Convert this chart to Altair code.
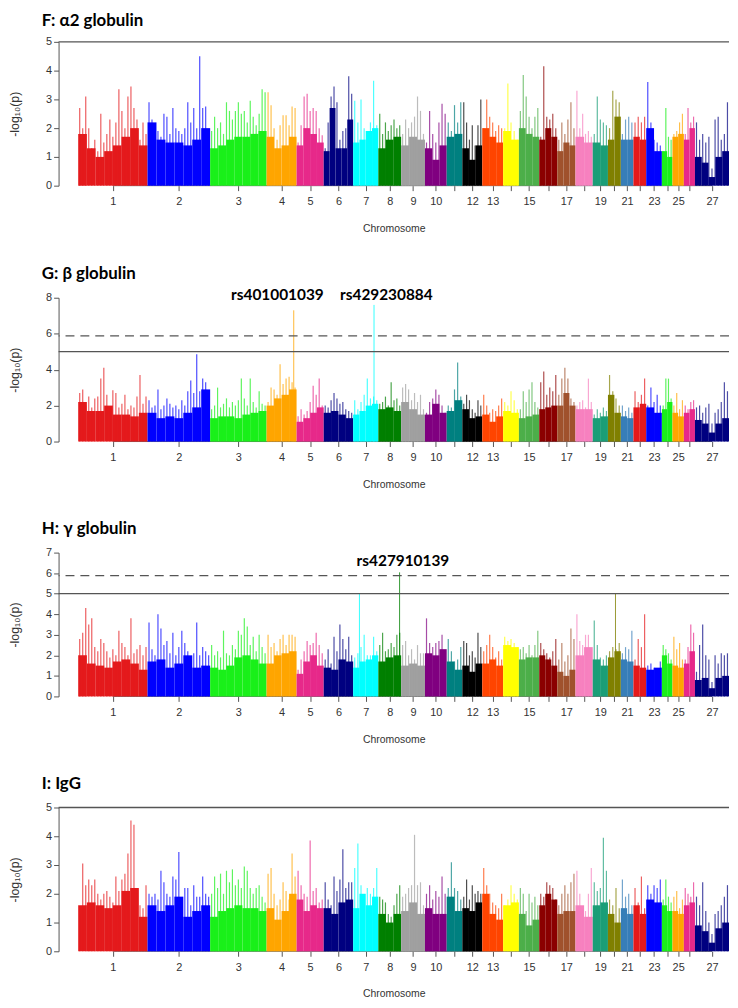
import altair as alt
import pandas as pd

# ---------------- chromosome frame (sheep, Mb) ----------------
CHR_LABELS = ['1', '2', '3', '4', '5', '6', '7', '8', '9', '10', '', '12', '13', '', '15', '', '17', '',
              '19', '', '21', '', '23', '', '25', '', '27']
CHR_LEN_MB = [275.6, 249.0, 224.3, 119.3, 107.9, 117.0, 100.1, 90.7, 94.7, 86.4, 62.2, 79.1, 83.1, 62.7,
              80.9, 71.7, 72.3, 68.6, 60.5, 51.2, 50.1, 50.8, 62.3, 42.0, 45.4, 44.1, 135.4]
CHR_COLORS = ['#E41A1C', '#0000FF', '#1AF01A', '#FFA500', '#E7298A', '#000080', '#00FFFF', '#008000',
              '#A0A0A0', '#800080', '#008080', '#000000', '#FF4500', '#FFFF00', '#4DAF4A', '#8B0000',
              '#A0522D', '#F781BF', '#1B9E77', '#808000', '#377EB8', '#E41A1C', '#0000FF', '#1AF01A',
              '#FFA500', '#E7298A', '#000080']

# ---------------- F: alpha2 globulin ----------------
F_SPIKES = [
    [2.7, 2.0, 3.1, 2.0, 1.3, 1.6, 1.2, 2.5, 1.5, 1.8, 2.3, 1.7, 2.2, 3.35, 2.6, 2.0, 3.1, 3.45, 2.7, 2.3, 1.6, 2.2, 1.8],
    [2.9, 2.3, 1.8, 1.9, 1.7, 2.5, 2.4, 1.8, 2.7, 2.0, 1.9, 1.8, 2.0, 2.9, 2.2, 2.7, 2.0, 4.5, 2.7, 2.75, 1.6],
    [1.9, 2.4, 2.0, 2.2, 1.8, 2.9, 2.6, 2.3, 2.6, 2.9, 2.5, 2.6, 2.2, 2.95, 2.4, 2.1, 2.5, 3.35, 3.25],
    [3.25, 2.8, 2.0, 1.6, 2.1, 2.45, 2.45, 2.1, 2.75, 2.7],
    [1.5, 2.1, 3.1, 3.2, 2.6, 2.7, 2.6, 2.0, 1.75],
    [1.3, 2.2, 3.1, 3.45, 2.9, 1.6, 1.9, 2.0, 3.8, 3.2],
    [2.95, 2.2, 3.0, 2.0, 1.9, 2.2, 3.65, 2.1],
    [2.5, 1.8, 2.2, 1.9, 2.1, 2.3, 2.0, 2.1],
    [1.8, 2.3, 2.0, 2.2, 2.4, 3.1, 2.6, 1.8],
    [1.5, 2.6, 1.8, 1.5, 2.2, 2.85, 2.5],
    [2.2, 1.9, 2.8, 2.2, 2.9],
    [2.9, 2.2, 1.6, 2.1, 1.4, 2.1, 3.0],
    [2.0, 3.0, 2.4, 2.2, 1.9, 2.1, 2.0],
    [2.0, 3.55, 2.2, 1.9, 1.6],
    [2.6, 3.85, 3.1, 2.4, 2.0, 2.4, 2.7],
    [1.7, 4.15, 2.4, 2.3, 2.5, 2.0],
    [1.6, 2.2, 1.8, 2.3, 2.9, 2.0],
    [3.3, 2.0, 2.5, 1.8, 1.9, 1.7],
    [1.8, 3.1, 2.3, 2.2, 2.1],
    [2.0, 3.3, 3.0, 2.9],
    [1.8, 2.3, 2.4, 2.2],
    [2.2, 2.4, 2.2, 2.4],
    [3.6, 2.2, 1.6, 1.5, 1.4],
    [1.2, 2.7, 1.7, 1.6],
    [1.8, 1.9, 2.2, 2.5],
    [1.8, 2.7, 2.2, 2.4],
    [2.2, 1.6, 1.8, 1.5, 1.7, 0.6, 2.3, 2.4, 1.6, 1.8, 2.9],
]
F_BASE = [
    [1.8, 1.3, 1.0, 1.2, 1.4, 1.7, 2.0, 1.4], [2.2, 1.6, 1.5, 1.5, 1.4, 1.6, 2.0], [1.3, 1.4, 1.6, 1.7, 1.7, 1.8, 1.9],
    [1.7, 1.3, 1.4, 1.7], [1.4, 2.0, 1.8, 1.5], [1.2, 2.7, 1.3, 1.3, 2.3], [1.5, 1.6, 1.9, 2.0], [1.3, 1.6, 1.7],
    [1.4, 1.7, 1.6], [1.3, 0.9, 1.4], [1.7, 1.8], [1.3, 0.9, 1.4], [2.0, 1.7, 1.5], [1.9, 1.6], [2.0, 1.8, 1.7],
    [1.6, 2.0, 1.7], [1.2, 1.5, 1.4], [1.7, 1.5], [1.5, 1.4], [1.6, 2.4], [1.6, 1.6], [1.7, 1.6], [2.0, 1.2],
    [1.2, 1.0], [1.7, 1.8], [1.6, 2.0], [1.0, 0.8, 0.3, 1.0, 1.2],
]

# ---------------- G: beta globulin ----------------
G_SPIKES = [
    [2.7, 2.9, 2.0, 2.5, 1.9, 2.4, 2.5, 3.5, 4.1, 2.6, 1.9, 2.85, 2.7, 1.9, 2.1, 2.6, 1.8, 2.0, 1.9, 2.5, 3.7, 2.1, 2.5],
    [2.3, 1.9, 2.0, 2.9, 1.8, 2.0, 2.4, 2.1, 1.9, 2.0, 1.8, 2.3, 2.0, 2.8, 3.4, 2.7, 4.85, 2.8, 3.5, 3.3, 1.9],
    [1.8, 2.0, 3.0, 1.9, 2.1, 2.4, 1.9, 2.2, 2.0, 2.3, 3.5, 2.4, 2.0, 3.5, 2.2, 1.9, 2.8, 2.1, 2.0],
    [2.2, 3.0, 2.9, 2.6, 4.3, 3.2, 3.5, 3.6, 3.3, 3.0],
    [1.4, 1.8, 1.5, 1.7, 2.2, 3.1, 2.6, 3.5, 2.0],
    [2.0, 1.9, 2.3, 2.7, 2.4, 2.1, 2.2, 1.8, 1.7, 1.6],
    [2.3, 1.8, 2.2, 2.6, 3.5, 2.4, 2.5, 2.3],
    [2.1, 2.2, 2.5, 2.0, 3.3, 2.3, 2.4, 2.0],
    [3.0, 3.2, 2.9, 2.3, 2.7, 2.2, 2.6, 1.8],
    [1.6, 2.2, 2.4, 2.9, 2.6, 2.0, 1.6],
    [2.0, 1.9, 2.9, 4.4, 2.5],
    [2.1, 2.6, 2.3, 1.8, 1.6, 2.3, 2.0],
    [2.6, 2.0, 1.6, 1.8, 1.7, 2.0, 2.4],
    [2.2, 2.0, 2.8, 2.3, 1.8],
    [1.8, 2.8, 2.2, 2.9, 3.3, 2.2, 1.9],
    [3.3, 3.9, 2.6, 3.0, 2.8, 3.7],
    [2.6, 3.5, 4.1, 3.5, 2.4, 2.2],
    [2.0, 2.2, 2.3, 1.9, 3.5, 2.2],
    [1.5, 1.8, 1.6, 1.9, 1.7],
    [3.7, 2.8, 2.4, 2.0],
    [2.0, 1.7, 1.9, 1.6],
    [2.8, 2.2, 2.6, 3.5],
    [2.0, 3.0, 2.2, 2.6, 2.0],
    [2.0, 3.5, 3.5, 2.4],
    [2.0, 2.7, 1.8, 2.3],
    [2.0, 1.8, 2.2, 2.3],
    [1.9, 2.0, 1.6, 1.9, 2.1, 1.0, 1.6, 1.8, 2.2, 3.3, 2.8],
]
G_BASE = [
    [2.2, 1.7, 1.7, 2.0, 1.5, 1.5, 1.4, 1.6], [1.6, 1.3, 1.4, 1.3, 1.6, 1.9, 2.9], [1.3, 1.4, 1.4, 1.3, 1.5, 1.6, 1.7],
    [2.0, 2.4, 2.6, 2.9], [1.1, 1.3, 1.6, 1.9], [1.6, 1.7, 1.5, 1.3], [1.5, 1.7, 2.0, 2.1], [1.8, 1.9, 1.7],
    [2.2, 1.8, 1.5], [1.5, 2.1, 1.6], [1.7, 2.3], [1.8, 1.3, 1.4], [1.5, 1.1, 1.4], [1.7, 1.6], [1.3, 1.4, 1.5],
    [1.8, 1.9, 2.0], [2.0, 2.7, 2.0], [1.8, 1.8], [1.3, 1.4], [2.6, 1.6], [1.4, 1.3], [1.9, 2.1], [1.9, 1.6],
    [1.8, 2.2], [1.6, 1.4], [1.6, 1.8], [1.2, 1.0, 0.5, 1.0, 1.3],
]
G_HITS_CHR = [4, 7]
G_HITS_MB = [108.0, 83.0]
G_HITS_P = [7.3, 7.6]
G_LABELS = ['rs401001039', 'rs429230884']
G_LABEL_MB = [792, 1225]
G_LABEL_Y = [8.17, 8.17]

# ---------------- H: gamma globulin ----------------
H_SPIKES = [
    [2.8, 3.1, 4.3, 3.5, 3.8, 2.4, 2.2, 2.8, 2.6, 2.2, 1.9, 2.3, 2.0, 3.2, 2.6, 2.4, 2.0, 3.8, 2.1, 2.3, 2.5, 2.0, 2.4],
    [3.6, 2.3, 2.0, 4.0, 3.3, 2.5, 2.7, 2.1, 3.1, 2.0, 2.4, 3.2, 2.6, 2.2, 1.9, 2.1, 3.6, 2.0, 2.4, 2.2, 2.0],
    [2.5, 2.0, 2.2, 1.9, 3.2, 2.1, 2.0, 2.5, 2.3, 3.2, 3.0, 3.8, 3.4, 2.5, 2.9, 2.2, 3.0, 2.4, 2.1],
    [3.0, 2.4, 2.6, 2.2, 2.8, 3.0, 2.5, 3.0, 3.0, 2.9],
    [1.3, 1.8, 2.2, 2.7, 2.5, 2.6, 3.1, 2.5, 2.1],
    [1.8, 2.3, 1.6, 2.9, 2.2, 3.5, 2.8, 2.3, 2.9, 2.0],
    [1.9, 2.1, 2.4, 3.0, 2.0, 2.0, 2.9, 2.2],
    [2.5, 3.1, 2.2, 2.3, 2.6, 2.4, 3.0, 3.1],
    [2.5, 2.7, 2.0, 2.3, 1.8, 2.5, 2.1, 2.1],
    [3.8, 2.6, 2.4, 2.6, 2.7, 3.0, 2.2],
    [2.8, 2.2, 1.7, 1.8, 2.4],
    [2.7, 2.6, 2.0, 2.2, 1.9, 3.1, 2.4],
    [2.2, 2.5, 3.0, 2.4, 1.9, 2.2, 1.8],
    [2.9, 2.7, 2.8, 2.6, 2.4],
    [2.3, 2.4, 2.1, 2.5, 2.0, 2.5, 3.2],
    [2.6, 2.3, 2.1, 1.9, 2.2, 2.8],
    [1.8, 2.6, 1.7, 2.0, 3.3, 2.8],
    [4.0, 2.7, 2.5, 3.0, 3.0, 2.2],
    [3.7, 2.5, 1.9, 1.8, 2.0],
    [2.2, 2.4, 2.3, 2.6],
    [2.1, 2.4, 2.3, 3.2],
    [1.8, 2.8, 2.4, 4.0],
    [1.5, 1.6, 1.4, 1.3, 1.7],
    [2.5, 2.3, 2.1, 1.8],
    [2.9, 2.3, 2.6, 1.8],
    [1.8, 2.4, 3.5, 3.1],
    [1.2, 2.5, 3.5, 2.0, 1.8, 0.7, 2.0, 1.6, 2.1, 2.0, 2.1],
]
H_BASE = [
    [2.0, 1.6, 1.5, 1.4, 1.7, 1.8, 1.6, 1.3], [1.7, 1.8, 1.4, 1.6, 2.0, 1.4, 1.5], [1.4, 1.3, 1.5, 1.9, 2.0, 1.8, 1.6],
    [1.6, 2.0, 2.1, 2.2], [1.1, 1.7, 2.0, 1.5], [1.4, 1.3, 1.8, 1.7], [1.4, 1.7, 1.8, 2.0], [1.7, 1.9, 2.0],
    [1.5, 1.6, 1.5], [2.1, 2.0, 2.3], [1.7, 1.3], [1.5, 1.2, 1.6], [1.6, 1.8, 1.5], [2.5, 2.4], [1.8, 1.9, 1.9],
    [2.0, 1.8, 1.5], [1.2, 1.0, 1.3], [2.0, 2.4], [1.8, 1.5], [1.9, 2.2], [1.8, 1.7], [1.5, 1.4], [1.3, 1.4],
    [2.0, 1.6], [1.5, 1.4], [1.6, 2.2], [0.8, 0.9, 0.4, 0.9, 1.0],
]
H_HITS_CHR = [8, 7, 20]
H_HITS_MB = [84.5, 25.0, 30.0]
H_HITS_P = [6.04, 5.0, 5.0]
H_LABELS = ['rs427910139']
H_LABEL_MB = [1291]
H_LABEL_Y = [6.57]

# ---------------- I: IgG ----------------
I_SPIKES = [
    [1.3, 3.05, 2.3, 2.5, 2.3, 2.5, 2.0, 1.8, 2.0, 2.1, 1.9, 1.7, 2.6, 2.1, 2.5, 2.7, 3.4, 4.55, 4.4, 2.0, 1.6, 1.5, 2.3],
    [2.0, 1.9, 2.0, 1.8, 2.8, 2.4, 2.0, 1.9, 2.6, 2.5, 3.45, 1.8, 2.2, 2.2, 1.6, 2.3, 1.9, 1.9, 2.6, 2.0, 1.9],
    [2.0, 2.6, 2.2, 2.7, 2.0, 2.8, 2.4, 2.85, 2.3, 2.5, 2.2, 2.95, 2.8, 2.2, 2.0, 2.2, 2.3, 1.9, 1.7],
    [2.7, 2.9, 2.0, 1.6, 1.8, 2.4, 2.1, 1.8, 3.4, 2.6],
    [2.8, 2.3, 2.0, 1.9, 3.85, 2.1, 2.2, 1.7, 1.8],
    [2.4, 1.8, 1.6, 2.6, 2.1, 2.5, 3.55, 2.2, 2.4, 2.4],
    [2.9, 3.75, 2.3, 1.8, 2.2, 2.0, 2.2, 2.9],
    [1.9, 1.8, 1.7, 1.3, 1.2, 1.6, 2.0, 2.3],
    [1.9, 2.0, 2.2, 2.3, 4.05, 2.3, 2.4, 1.6],
    [2.0, 2.3, 1.8, 2.1, 1.9, 2.6, 2.0],
    [2.2, 3.1, 2.2, 2.1, 1.8],
    [1.9, 2.5, 1.8, 2.3, 2.0, 2.1, 2.0],
    [2.9, 2.3, 2.0, 1.7, 1.6, 1.5, 2.0],
    [1.6, 1.8, 2.3, 2.0, 1.8],
    [2.2, 2.0, 1.4, 2.0, 1.7, 1.9, 1.6],
    [2.0, 1.9, 2.4, 2.3, 2.2, 1.8],
    [1.6, 2.0, 2.3, 2.0, 2.4, 2.7],
    [2.8, 2.0, 1.5, 1.4, 2.0, 2.9],
    [2.4, 2.1, 2.2, 3.95, 2.8],
    [1.8, 1.6, 2.2, 1.5],
    [2.5, 1.9, 2.0, 1.6],
    [2.2, 1.7, 2.6, 1.5],
    [2.3, 2.0, 2.3, 2.2, 2.5],
    [1.8, 2.5, 1.9, 1.7],
    [1.9, 2.1, 1.5, 1.8],
    [2.2, 2.0, 1.9, 2.4],
    [1.9, 1.6, 2.4, 1.4, 1.0, 0.6, 1.3, 1.4, 1.6, 1.9, 2.3],
]
I_BASE = [
    [1.6, 1.7, 1.6, 1.5, 1.6, 2.1, 2.2, 1.2], [1.6, 1.4, 1.6, 1.9, 1.2, 1.4, 1.6], [1.2, 1.4, 1.5, 1.6, 1.5, 1.5, 1.4],
    [1.5, 1.1, 1.4, 2.0], [1.8, 1.4, 1.6, 1.5], [1.5, 1.3, 1.7, 1.8], [1.5, 2.0, 1.6, 1.9], [1.3, 1.0, 1.3],
    [1.4, 1.7, 1.3], [1.5, 1.3, 1.3], [1.9, 1.4], [1.5, 1.4, 1.7], [2.0, 1.3, 1.1], [1.6, 1.7], [1.3, 0.9, 1.1],
    [1.6, 2.0, 1.8], [1.3, 1.4, 1.4], [1.6, 1.2], [1.6, 1.7], [1.3, 1.0], [1.5, 1.3], [1.6, 1.3], [1.8, 1.7],
    [1.6, 1.4], [1.4, 1.3], [1.6, 1.7], [0.9, 0.7, 0.3, 0.8, 1.0],
]

SUGGESTIVE = 5.0
GENOMEWIDE = 5.88

# ---------------- derived frame ----------------
OFFS = []
acc = 0.0
for L in CHR_LEN_MB:
    OFFS.append(acc)
    acc += L
TOTAL = acc
X_PAD = 78
CENTERS = [round(o + L / 2, 2) for o, L in zip(OFFS, CHR_LEN_MB)]
LABEL_EXPR = ("[" + ",".join("'%s'" % s for s in CHR_LABELS) + "][indexof([" +
              ",".join(str(c) for c in CENTERS) + "], datum.value)]")

AX_FONT = 'Liberation Sans'
W, H = 676, 145


def panel(title, spikes, bases, ymax, yticks, hits=None, labels=None, dashed=False, title_offset=9):
    srows, brows = [], []
    for ci in range(27):
        start, L, col = OFFS[ci], CHR_LEN_MB[ci], CHR_COLORS[ci]
        n = len(spikes[ci])
        for i, v in enumerate(spikes[ci]):
            srows.append({'pos': start + (i + 0.5) * L / n, 'v': v, 'z': 0, 'col': col})
        m = len(bases[ci])
        for i, v in enumerate(bases[ci]):
            brows.append({'x0': start + i * L / m, 'x1': start + (i + 1) * L / m, 'v': v, 'z': 0, 'col': col})
    xs = alt.Scale(domain=[-X_PAD, TOTAL], nice=False, zero=False)
    ys = alt.Scale(domain=[0, ymax], nice=False)

    xaxis = alt.Axis(values=CENTERS, labelExpr=LABEL_EXPR, title='Chromosome', domain=False, grid=False,
                     tickSize=5, tickColor='#555', labelPadding=5, titlePadding=17, labelOverlap=False,
                     labelFlush=False, labelFont=AX_FONT, labelFontSize=11, labelColor='#333',
                     titleFont=AX_FONT, titleFontSize=10.5, titleFontWeight='normal', titleColor='#333')
    yaxis = alt.Axis(values=yticks, title='-log\u2081\u2080(p)', grid=False, tickSize=5, tickColor='#555',
                     domainColor='#555', labelPadding=2, titlePadding=24, labelFont=AX_FONT, labelFontSize=11,
                     labelColor='#333', titleFont=AX_FONT, titleFontSize=12.5, titleFontWeight='normal',
                     titleColor='#333')

    def X(f):
        return alt.X(f, scale=xs, axis=xaxis)

    def Y(f):
        return alt.Y(f, scale=ys, axis=yaxis)

    axis_line = alt.Chart(pd.DataFrame({'a': [CENTERS[0]], 'b': [CENTERS[-1]], 'z': [0]})).mark_rule(
        color='#666', strokeWidth=1).encode(x=X('a:Q'), x2='b:Q', y=Y('z:Q'))

    base = alt.Chart(pd.DataFrame(brows)).mark_rect().encode(
        x=X('x0:Q'), x2='x1:Q', y=Y('v:Q'), y2='z:Q', color=alt.Color('col:N', scale=None))

    sp = alt.Chart(pd.DataFrame(srows)).mark_rule(strokeWidth=1.2, opacity=0.7).encode(
        x=X('pos:Q'), y=Y('v:Q'), y2='z:Q', color=alt.Color('col:N', scale=None))

    layers = [axis_line, base, sp]

    if hits:
        hrows = [{'pos': OFFS[c - 1] + mb, 'v': p, 'z': 0, 'col': CHR_COLORS[c - 1]}
                 for c, mb, p in zip(*hits)]
        layers.append(alt.Chart(pd.DataFrame(hrows)).mark_rule(strokeWidth=1, opacity=0.8).encode(
            x=X('pos:Q'), y=Y('v:Q'), y2='z:Q', color=alt.Color('col:N', scale=None)))

    layers.append(alt.Chart(pd.DataFrame({'t': [SUGGESTIVE]})).mark_rule(color='#555', strokeWidth=1.3).encode(
        y=Y('t:Q')))
    if dashed:
        layers.append(alt.Chart(pd.DataFrame({'t': [GENOMEWIDE]})).mark_rule(
            color='#555', strokeWidth=1.3, strokeDash=[9, 6]).encode(y=Y('t:Q')))

    if labels:
        lrows = [{'txt': t, 'pos': x, 'v': y} for t, x, y in zip(*labels)]
        layers.append(alt.Chart(pd.DataFrame(lrows)).mark_text(
            font='Lato', fontWeight='bold', fontSize=15.5, color='black', align='center', baseline='middle').encode(
            x=X('pos:Q'), y=Y('v:Q'), text='txt:N'))

    return alt.layer(*layers).properties(
        width=W, height=H,
        title=alt.TitleParams(text=title, anchor='start', frame='group', dx=-17, font='Lato', fontSize=17,
                              fontWeight='bold', color='black', offset=title_offset))


pF = panel('F: \u03b12 globulin', F_SPIKES, F_BASE, 5, [0, 1, 2, 3, 4, 5], title_offset=6)
pG = panel('G: \u03b2 globulin', G_SPIKES, G_BASE, 8, [0, 2, 4, 6, 8],
           hits=(G_HITS_CHR, G_HITS_MB, G_HITS_P), labels=(G_LABELS, G_LABEL_MB, G_LABEL_Y), dashed=True,
           title_offset=5)
pH = panel('H: \u03b3 globulin', H_SPIKES, H_BASE, 7, [0, 1, 2, 3, 4, 5, 6, 7],
           hits=(H_HITS_CHR, H_HITS_MB, H_HITS_P), labels=(H_LABELS, H_LABEL_MB, H_LABEL_Y), dashed=True)
pI = panel('I: IgG', I_SPIKES, I_BASE, 5, [0, 1, 2, 3, 4, 5])

chart = alt.vconcat(pF, pG, pH, pI, spacing=30).properties(
    padding={'left': 0, 'top': 0, 'right': 0, 'bottom': 0}, background='white'
).configure_view(stroke=None)

chart.save('out.html', embed_options={'renderer': 'svg', 'actions': False})
